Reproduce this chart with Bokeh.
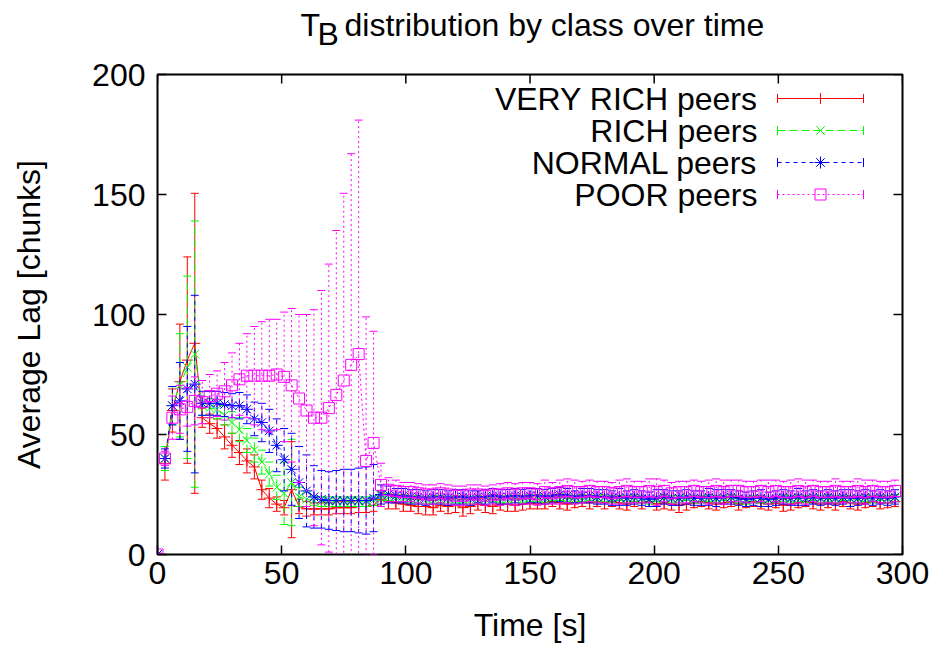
import numpy as np
from bokeh.plotting import figure
from bokeh.layouts import column
from bokeh.models import Range1d, FixedTicker, Label, ColumnDataSource
from bokeh.embed import file_html
from bokeh.resources import INLINE

# ---------------- data ----------------
time_s = list(range(0, 300, 3))

very_rich_lag = [
    0, 38, 60, 72, 81, 88, 57, 54.5, 52.5, 49,
    45.5, 42.5, 39, 36.5, 27, 23.5, 21, 19.5, 27, 20,
    19, 19, 19, 19, 19.5, 19.5, 19.5, 20, 20, 20.5,
    23, 22, 21.5, 21, 20.5, 20, 20, 19.5, 20.5, 20,
    20.5, 19.5, 20, 21, 20.5, 20, 21, 21, 20.5, 21,
    21.5, 21, 21.5, 22, 21.5, 21, 21.5, 22, 21.5, 22,
    21.5, 22, 21.5, 21, 22, 21.5, 22, 21, 21.5, 21,
    20.5, 21, 21.5, 22, 21.5, 21, 21.5, 22, 21, 21.5,
    22, 21.5, 21, 21.5, 20.5, 21, 21.5, 22, 21.5, 21,
    21.5, 21, 22, 21.5, 21, 21.5, 22, 21.5, 21.5, 22]
very_rich_err = [
    0.5, 7, 9, 24, 43, 62.5, 4, 4, 4, 5,
    5, 5, 5, 5, 4, 4, 3, 3, 20, 3,
    3, 2.5, 2.5, 2.5, 2.5, 2.5, 2.5, 2.5, 2.5, 2.5,
    3, 3, 2.5, 3, 2.5, 3, 3.5, 3, 2.5, 3,
    3, 3.5, 3, 2.5, 3, 3, 2.5, 3, 2.5, 2.5,
    2.5, 2, 2.5, 2, 2.5, 2.5, 2, 2, 2.5, 2,
    2.5, 2, 2.5, 2.5, 2, 2.5, 2, 2.5, 2.5, 2.5,
    3, 2.5, 2, 2, 2.5, 2.5, 2, 2, 2.5, 2,
    2, 2.5, 2.5, 2, 2.5, 2.5, 2, 2, 2.5, 2.5,
    2, 2.5, 2, 2.5, 2.5, 2, 2, 2.5, 2, 2]

rich_lag = [
    0, 40, 62, 70.5, 78, 83.5, 62, 61, 60.5, 58,
    55, 52, 47.5, 43.5, 38.5, 33.5, 28, 25.5, 30, 24,
    23, 22.5, 22, 22, 22, 22, 22, 22, 22, 22.5,
    24.5, 24, 23.5, 23.5, 23, 23, 22.5, 23, 23, 22.5,
    23, 23, 22.5, 23, 23, 23.5, 23, 23, 23.5, 23,
    23.5, 23.5, 23, 23.5, 24, 23.5, 23, 23.5, 23.5, 23,
    23.5, 23, 23.5, 23, 23.5, 23, 22.5, 23, 23.5, 23,
    23, 23.5, 23, 23, 23.5, 23, 23.5, 23.5, 23, 22.5,
    23, 23, 22.5, 23, 23.5, 23, 23.5, 23, 23.5, 23,
    23.5, 23, 23.5, 23, 23, 23.5, 23, 23.5, 23, 23.5]
rich_err = [
    0.5, 5, 8, 21.5, 38, 55.5, 4, 4, 4, 4,
    4.5, 5, 5, 5, 5, 5, 5, 13, 18, 4,
    3, 2, 2, 2, 2, 2, 2, 2, 2, 2,
    2, 1.5, 1.5, 1.5, 1.5, 1.5, 1.5, 1.5, 1.5, 1.5,
    1.5, 1.5, 1.5, 1.5, 1, 1.5, 1.5, 1.5, 1, 1.5,
    1.5, 1.5, 1.5, 1, 1.5, 1.5, 1.5, 1.5, 1, 1.5,
    1.5, 1.5, 1, 1.5, 1.5, 1.5, 1.5, 1, 1.5, 1.5,
    1.5, 1, 1.5, 1.5, 1.5, 1.5, 1, 1.5, 1.5, 1.5,
    1.5, 1.5, 1.5, 1, 1.5, 1.5, 1.5, 1.5, 1, 1.5,
    1.5, 1.5, 1, 1.5, 1.5, 1.5, 1.5, 1, 1.5, 1.5]

normal_lag = [
    0, 40, 62, 64, 69, 71, 63, 63, 63, 62.5,
    62, 62, 60.5, 56.5, 55, 51.5, 45.5, 39.5, 35.5, 30,
    26.5, 24, 23, 22.5, 22.5, 22.5, 22.5, 22.5, 22.5, 23.5,
    25, 25, 24.5, 24.5, 24, 24, 23.5, 24, 24, 23.5,
    24, 24, 23.5, 24, 24, 24.5, 24, 24, 24.5, 24,
    24.5, 24.5, 24, 24.5, 25, 24.5, 24, 24.5, 24.5, 24,
    24, 23.5, 24, 23.5, 24, 23.5, 23, 23.5, 24, 23.5,
    23.5, 24, 23.5, 23.5, 24, 23.5, 24, 24, 23.5, 23,
    23.5, 23.5, 23, 23.5, 24, 23.5, 24, 23.5, 24, 23.5,
    24, 23.5, 24, 23.5, 23.5, 24, 23.5, 24, 23.5, 24]
normal_err = [
    0.5, 4, 8, 16, 26, 37, 5, 5, 5, 5,
    5, 5.5, 6, 7, 8, 9, 11, 13, 15, 15,
    15, 13, 12, 12, 12.5, 13, 13, 13.5, 14, 14,
    4, 3.5, 3, 3, 3, 3, 3, 3, 3, 3,
    3, 3, 3, 2.5, 3, 3, 3, 3, 3, 3,
    3, 3, 3, 3, 3, 3, 2.5, 3, 3, 3,
    3, 3, 3.5, 3, 3, 3, 3, 3.5, 3, 3,
    3, 3, 3, 3, 3.5, 3.5, 3, 3, 3, 3,
    3, 3.5, 3, 3, 3, 3, 3.5, 3, 3, 3,
    3, 3, 3, 3.5, 3, 3, 3, 3, 3, 3]

poor_lag = [
    0, 40, 57, 60.5, 61.5, 64, 63.5, 66, 67, 68,
    70.5, 73, 74.5, 74.5, 74.5, 74.5, 75, 74, 70.5, 65,
    60, 57, 57, 61, 66.5, 72.5, 79, 83.5, 39, 46.5,
    29, 27, 26.5, 26, 26, 25.5, 25, 25, 25.5, 25,
    24.5, 24.5, 25, 25, 24.5, 25, 25, 25.5, 25, 25.5,
    25.5, 25, 26, 25.5, 26, 26.5, 26, 26, 26.5, 26,
    26, 25.5, 26, 26.5, 26, 26, 26.5, 26, 26.5, 25.5,
    26, 26, 26.5, 26, 26, 26.5, 26, 26.5, 26.5, 26,
    26, 26.5, 26, 26.5, 26, 26, 26.5, 26, 26.5, 26,
    26, 26.5, 26, 26, 26.5, 26, 26.5, 26, 26, 26.5]
poor_err = [
    0.5, 3, 9, 10, 8, 10, 9, 9, 9.5, 12,
    13.5, 15, 17.5, 20.5, 22.5, 23.5, 23, 27, 32, 35,
    40, 45, 53, 60, 68.5, 78, 88, 97.5, 60, 46.5,
    9, 5, 4.5, 4, 4, 4, 4, 4, 4, 4,
    4, 4, 4, 4, 4, 4, 4.5, 4.5, 4.5, 4.5,
    4.5, 4.5, 5, 4.5, 5, 5, 5, 4.5, 4.5, 4.5,
    4.5, 4.5, 5, 5, 4.5, 4.5, 5, 5.5, 4.5, 4.5,
    4.5, 4.5, 4.5, 4.5, 5, 5, 5, 4.5, 4.5, 4.5,
    4.5, 4.5, 5, 4.5, 4.5, 5, 5, 5, 4.5, 4.5,
    4.5, 5, 4.5, 4.5, 5, 5, 4.5, 4.5, 4.5, 4.5]

series_names = ["VERY RICH peers", "RICH peers", "NORMAL peers", "POOR peers"]
x_ticks = [0, 50, 100, 150, 200, 250, 300]
y_ticks = [0, 50, 100, 150, 200]

# ---------------- style ----------------
FONT = "Liberation Sans"
FS = "32px"
colors = ["#ff0000", "#00ff00", "#0000ff", "#ff00ff"]
dashes = ["solid", "8 4", "4 4", "2 3"]
markers = ["cross", "x", "asterisk", "square"]
msizes = [11, 12, 12, 11]

W, H = 933, 654
TITLE_H = 55
# plot box (gnuplot border) in window pixels
FL, FR, FT, FB = 157, 902, 74, 554
XMIN, XMAX, YMIN, YMAX = 0, 300, 0, 200


def px_x(px):
    return XMIN + (px - FL) / (FR - FL) * (XMAX - XMIN)


def px_y(py):
    return YMIN + (FB - py) / (FB - FT) * (YMAX - YMIN)


# ---------------- title strip (data units = window pixels) ----------------
pt = figure(width=W, height=TITLE_H, output_backend="svg", toolbar_location=None,
            x_range=Range1d(FL, FR), y_range=Range1d(TITLE_H, 0),
            x_axis_type=None, y_axis_type=None,
            min_border_left=FL, min_border_right=W - FR,
            min_border_top=0, min_border_bottom=0)
pt.title.visible = False
pt.outline_line_color = None
pt.xgrid.visible = False
pt.ygrid.visible = False
pt.background_fill_color = "white"
pt.border_fill_color = "white"

title_y = 24
pt.add_layout(Label(x=300, y=title_y, text="T", text_align="left",
                    text_baseline="alphabetic", text_font=FONT, text_font_size=FS,
                    text_color="black"))
pt.add_layout(Label(x=317, y=title_y + 9, text="B", text_align="left",
                    text_baseline="alphabetic", text_font=FONT, text_font_size=FS,
                    text_color="black"))
pt.add_layout(Label(x=344, y=title_y, text="distribution by class over time",
                    text_align="left", text_baseline="alphabetic", text_font=FONT,
                    text_font_size=FS, text_color="black"))

# ---------------- main plot ----------------
p = figure(width=W, height=H - TITLE_H, output_backend="svg", toolbar_location=None,
           x_range=Range1d(XMIN, XMAX), y_range=Range1d(YMIN, YMAX),
           min_border_left=FL, min_border_right=W - FR,
           min_border_top=FT - TITLE_H, min_border_bottom=H - FB,
           x_axis_label="Time [s]", y_axis_label="Average Lag [chunks]")
p.title.visible = False
p.background_fill_color = "white"
p.border_fill_color = "white"
p.outline_line_color = "black"
p.outline_line_width = 2
p.xgrid.visible = False
p.ygrid.visible = False


def style_axis(ax, ticks):
    ax.ticker = FixedTicker(ticks=ticks)
    ax.axis_line_color = None
    ax.major_tick_in = 9
    ax.major_tick_out = 0
    ax.major_tick_line_color = "black"
    ax.major_tick_line_width = 1.5
    ax.minor_tick_line_color = None
    ax.major_label_text_font = FONT
    ax.major_label_text_color = "black"
    ax.major_label_text_font_size = FS
    ax.axis_label_text_font = FONT
    ax.axis_label_text_font_size = FS
    ax.axis_label_text_font_style = "normal"
    ax.axis_label_text_color = "black"


style_axis(p.xaxis[0], x_ticks)
style_axis(p.yaxis[0], y_ticks)
p.xaxis[0].major_label_standoff = 7
p.xaxis[0].axis_label_standoff = 20
p.yaxis[0].major_label_standoff = 12
p.yaxis[0].axis_label_standoff = 42

# mirrored inward ticks on the top and right border
p.segment(x0=x_ticks, y0=[YMAX] * len(x_ticks), x1=x_ticks,
          y1=[px_y(FT + 9)] * len(x_ticks), line_color="black", line_width=1.5)
p.segment(x0=[XMAX] * len(y_ticks), y0=y_ticks, x1=[px_x(FR - 9)] * len(y_ticks),
          y1=y_ticks, line_color="black", line_width=1.5)

# ---------------- series ----------------
all_vals = [very_rich_lag, rich_lag, normal_lag, poor_lag]
all_errs = [very_rich_err, rich_err, normal_err, poor_err]

for name, vals, errs, c, d, m, ms in zip(series_names, all_vals, all_errs,
                                         colors, dashes, markers, msizes):
    v = np.array(vals, dtype=float)
    e = np.array(errs, dtype=float)
    src = ColumnDataSource(dict(x=time_s, y=v, lo=v - e, hi=v + e))
    p.segment("x", "lo", "x", "hi", source=src, line_color=c, line_dash=d, line_width=1)
    p.scatter("x", "lo", source=src, marker="dash", size=8, line_color=c, line_width=1)
    p.scatter("x", "hi", source=src, marker="dash", size=8, line_color=c, line_width=1)
    p.line(x=time_s[1:], y=v[1:], line_color=c, line_dash=d, line_width=1)
    p.scatter("x", "y", source=src, marker=m, size=ms, line_color=c,
              fill_color=None, line_width=1)

# ---------------- legend (gnuplot style: text right, sample left) ----------------
leg_rows_py = [98, 130, 162, 194]
leg_text_right_px = 757
leg_x0_px, leg_x1_px, leg_mid_px = 777, 863, 820
cap_half_px = 4.5
for name, c, d, m, ms, py in zip(series_names, colors, dashes, markers, msizes, leg_rows_py):
    yy = px_y(py)
    p.add_layout(Label(x=px_x(leg_text_right_px), y=yy, text=name, text_align="right",
                       text_baseline="middle", text_font=FONT, text_font_size=FS,
                       text_color="black"))
    p.segment(x0=[px_x(leg_x0_px)], y0=[yy], x1=[px_x(leg_x1_px)], y1=[yy],
              line_color=c, line_dash=d, line_width=1)
    p.segment(x0=[px_x(leg_x0_px), px_x(leg_x1_px)],
              y0=[px_y(py + cap_half_px)] * 2,
              x1=[px_x(leg_x0_px), px_x(leg_x1_px)],
              y1=[px_y(py - cap_half_px)] * 2, line_color=c, line_width=1)
    p.scatter(x=[px_x(leg_mid_px)], y=[yy], marker=m, size=ms, line_color=c,
              fill_color=None, line_width=1)

layout = column(pt, p, spacing=0)
open("out.html", "w").write(file_html(layout, INLINE))
